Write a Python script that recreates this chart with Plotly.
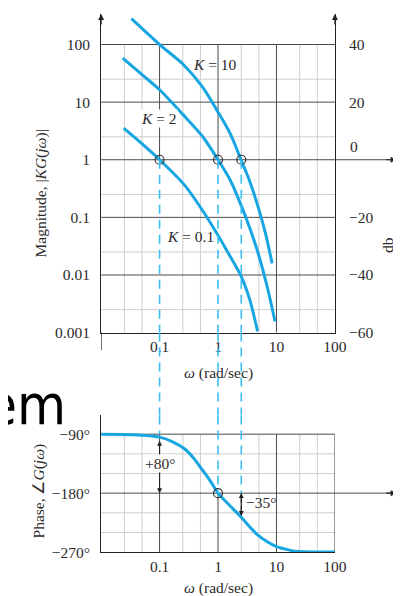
import math
import plotly.graph_objects as go

# ---------------- data ----------------
W_K10 = [0.033, 0.1, 0.25, 0.537, 1.03, 1.63, 2.48, 3.5, 4.75, 6.44, 8.42]
M_K10 = [281, 100, 45.8, 18.5, 6.38, 2.79, 1.0, 0.42, 0.163, 0.0541, 0.0159]

W_K2 = [0.0234, 0.0484, 0.1, 0.25, 0.537, 1.0, 1.63, 2.48, 3.63, 4.93, 6.96, 9.44]
M_K2 = [58.0, 30.9, 16.4, 6.13, 2.58, 1.0, 0.437, 0.163, 0.0585, 0.0227, 0.00618, 0.00156]

W_K01 = [0.0243, 0.0503, 0.1, 0.27, 0.58, 0.918, 1.51, 2.48, 3.5, 4.75]
M_K01 = [3.53, 1.88, 1.0, 0.359, 0.119, 0.0562, 0.0236, 0.00954, 0.0037, 0.00105]

W_PH = [0.01, 0.033, 0.1, 0.171, 0.27, 0.381, 0.537, 0.73, 1.0, 1.63, 2.48, 3.5, 4.75, 6.96, 10, 16.7, 24, 100]
PHASE = [-90, -90.8, -94.5, -102, -112.6, -126.3, -144.2, -160.8, -180, -200, -216.5, -231.6,
         -243.6, -254.2, -261.7, -267, -269.2, -270]

CROSS_W = [0.1, 1, 2.5]          # crossover frequencies (|KG| = 1, i.e. 0 db)
CROSS_DB = [0, 0, 0]
CROSS_PH_END = [-90, -180, -180]  # where the dashed guides stop in the phase plot
PM_01 = (-100, -180)              # +80 deg margin arrow at w = 0.1
PM_25 = (-180, -215)              # -35 deg margin arrow at w = 2.5

X_TICKS = [0.1, 1, 10, 100]
X_TICK_TEXT = ["0.1", "1", "10", "100"]
X_MAJOR = [0.1, 1, 10]
X_MINOR = [0.025, 0.05, 0.25, 0.5, 2.5, 5, 25, 50]
MAG_TICKS = [0.001, 0.01, 0.1, 1, 10, 100]
MAG_TICK_TEXT = ["0.001", "0.01", "0.1", "1", "10", "100"]
MAG_MINOR = [0.0025, 0.025, 0.25, 2.5, 25]
DB_TICKS = [-60, -40, -20, 20, 40]
DB_TICK_TEXT = ["\u221260", "\u221240", "\u221220", "20", "40"]
PH_TICKS = [-90, -180, -270]
PH_TICK_TEXT = ["\u221290\u00b0", "\u2212180\u00b0", "\u2212270\u00b0"]
PH_MINOR = [-120, -150, -210, -240]

# ---------------- style ----------------
W, H = 401, 596
BLUE = "#17a6e2"
DASH_BLUE = "#3cbdf0"
DARK = "#4a4a4a"
LIGHT = "#cdcdcd"
TXT = "#2b2b2b"
SERIF = "Liberation Serif"
FS = 15.5

XL, XR = 96 / W, 337 / W
TOP_DOM = [1 - 329 / H, 1 - 6 / H]
PH_DOM = [1 - 551.5 / H, 1 - 413 / H]
MAG_RANGE = [-3, 2.531]
PH_RANGE = [-270, -61.4]

fig = go.Figure()

# curves
for w, m in [(W_K10, M_K10), (W_K2, M_K2), (W_K01, M_K01)]:
    fig.add_trace(go.Scatter(x=w, y=m, mode="lines", line=dict(color=BLUE, width=3, shape="spline", smoothing=0.8),
                             xaxis="x", yaxis="y", hoverinfo="skip", showlegend=False))
fig.add_trace(go.Scatter(x=W_PH, y=PHASE, mode="lines", line=dict(color=BLUE, width=3, shape="spline", smoothing=0.8),
                         xaxis="x2", yaxis="y2", hoverinfo="skip", showlegend=False))

# crossover circles (on the db axis, at 0 db)
fig.add_trace(go.Scatter(x=CROSS_W, y=CROSS_DB, mode="markers",
                         marker=dict(symbol="circle-open", size=9, color="#333", line=dict(width=1.2)),
                         xaxis="x", yaxis="y3", hoverinfo="skip", showlegend=False))
fig.add_trace(go.Scatter(x=[1], y=[-180], mode="markers",
                         marker=dict(symbol="circle-open", size=9, color="#333", line=dict(width=1.2)),
                         xaxis="x2", yaxis="y2", hoverinfo="skip", showlegend=False))

shapes = []


def seg(x0, x1, y0, y1, xref, yref, color, width=1, dash=None):
    d = dict(type="line", x0=x0, x1=x1, y0=y0, y1=y1, xref=xref, yref=yref,
             line=dict(color=color, width=width), layer="below")
    if dash:
        d["line"]["dash"] = dash
        d["layer"] = "above"
    shapes.append(d)


# ---- magnitude grid ----
for m in MAG_MINOR:
    seg(0.01, 100, m, m, "x", "y", LIGHT)
for w in X_MINOR:
    seg(w, w, 1 if w in CROSS_W else 0.001, 100, "x", "y", LIGHT)
for m in MAG_TICKS[1:]:
    seg(0.01, 100, m, m, "x", "y", DARK)
for w in X_MAJOR:
    seg(w, w, 1 if w in CROSS_W else 0.001, 100, "x", "y", DARK)
seg(XR, 0.999, 1, 1, "paper", "y", DARK)
# left magnitude axis runs a little below the plot
seg(0.01, 0.01, TOP_DOM[0], 1 - 347 / H, "x", "paper", "#222", 1.2)

# ---- phase grid ----
for p in PH_MINOR:
    seg(0.01, 100, p, p, "x2", "y2", LIGHT)
for w in X_MINOR:
    if w in CROSS_W:
        seg(w, w, PM_25[1], -270, "x2", "y2", LIGHT)
    else:
        seg(w, w, -90, -270, "x2", "y2", LIGHT)
seg(0.01, 100, -90, -90, "x2", "y2", DARK)
seg(0.01, 100, -180, -180, "x2", "y2", DARK)
seg(XR, 0.999, -180, -180, "paper", "y2", DARK)
seg(0.1, 0.1, -90, -270, "x2", "y2", DARK)
seg(1, 1, -180, -270, "x2", "y2", DARK)
seg(10, 10, -90, -270, "x2", "y2", DARK)
seg(100, 100, -90, -270, "x2", "y2", DARK)
seg(2.5, 2.5, PM_25[0], PM_25[1], "x2", "y2", "#222", 1.2)

# ---- dashed guides ----
for w, pend in zip(CROSS_W, CROSS_PH_END):
    seg(w, w, 1, 0.001, "x", "y", DASH_BLUE, 1.6, "9px,6px")
    seg(w, w, TOP_DOM[0], PH_DOM[1], "x", "paper", DASH_BLUE, 1.6, "9px,6px")
    seg(w, w, PH_RANGE[1], pend, "x2", "y2", DASH_BLUE, 1.6, "9px,6px")

L = math.log10
ann = []


def arrowhead(x, y, xref, yref, ax, ay):
    ann.append(dict(x=x, y=y, xref=xref, yref=yref, ax=ax, ay=ay, text="", showarrow=True,
                    arrowhead=2, arrowsize=1, arrowwidth=1.2, arrowcolor="#222"))


def text(t, x, y, xref="paper", yref="paper", size=FS, angle=0, xanchor="center", bg=None,
         family=SERIF, color=TXT):
    d = dict(text=t, x=x, y=y, xref=xref, yref=yref, showarrow=False, textangle=angle,
             xanchor=xanchor, yanchor="middle", font=dict(family=family, size=size, color=color))
    if bg:
        d["bgcolor"] = bg
        d["borderpad"] = 0
    ann.append(d)


# axis arrows
arrowhead(L(0.01), MAG_RANGE[1], "x", "y", 0, 12)
arrowhead(L(100), MAG_RANGE[1], "x", "y", 0, 12)
arrowhead(0.999, 0, "paper", "y", -12, 0)
arrowhead(0.999, -180, "paper", "y2", -12, 0)

# margin arrows
for wv, (pa, pb) in [(0.1, PM_01), (2.5, PM_25)]:
    mid = (pa + pb) / 2
    for tip in (pa, pb):
        ann.append(dict(x=L(wv), y=tip, ax=L(wv), ay=mid, xref="x2", yref="y2", axref="x2", ayref="y2",
                        text="", showarrow=True, arrowhead=2, arrowsize=0.9, arrowwidth=1.1,
                        arrowcolor="#222"))

# labels inside
text("<i>K</i> = 10", L(0.88), L(45.8), "x", "y")
text("<i>K</i> = 2", L(0.096), L(5.2), "x", "y", bg="white")
text("<i>K</i> = 0.1", L(0.34), L(0.046), "x", "y")
text("+80\u00b0", L(0.1), -135, "x2", "y2", bg="white")
text("\u221235\u00b0", L(2.75), -195, "x2", "y2", xanchor="left")
text("0", 357 / W, 1 - 140 / H)

# axis titles
text("Magnitude, |<i>KG</i>(<i>j\u03c9</i>)|", 34 / W, 1 - 188 / H, angle=-90)
text("db", 392 / W, 1 - 240 / H, angle=-90)
text("<i>\u03c9</i> (rad/sec)", 217 / W, 1 - 370 / H)
text("Phase, \u2220<i>G</i>(<i>j\u03c9</i>)", 32 / W, 1 - 490 / H, angle=-90)
text("<i>\u03c9</i> (rad/sec)", 217 / W, 1 - 588 / H)

# stray slide text behind the figure
text("em", 62 / W, 1 - 402 / H, size=56, xanchor="right",
     family="Liberation Sans Narrow, DejaVu Sans Condensed, Liberation Sans", color="#000")

tickfont = dict(family=SERIF, size=FS, color=TXT)
common_x = dict(type="log", range=[-2, 2], domain=[XL, XR], showgrid=False, zeroline=False,
                showline=True, linecolor="#222", linewidth=1.2, ticks="",
                tickvals=X_TICKS, ticktext=X_TICK_TEXT, tickfont=tickfont, ticklabelstandoff=0)

fig.update_layout(
    width=W, height=H, margin=dict(l=0, r=0, t=0, b=0),
    paper_bgcolor="white", plot_bgcolor="white", showlegend=False,
    xaxis=dict(anchor="y", **common_x),
    xaxis2=dict(anchor="y2", **common_x),
    yaxis=dict(type="log", range=MAG_RANGE, domain=TOP_DOM, anchor="x", showgrid=False, zeroline=False,
               showline=True, linecolor="#222", linewidth=1.2, ticks="",
               tickvals=MAG_TICKS, ticktext=MAG_TICK_TEXT, tickfont=tickfont, ticklabelstandoff=7),
    yaxis3=dict(overlaying="y", side="right", anchor="x", range=[20 * MAG_RANGE[0], 20 * MAG_RANGE[1]],
                showgrid=False, zeroline=False, showline=True, linecolor="#222", linewidth=1.2, ticks="",
                tickvals=DB_TICKS, ticktext=DB_TICK_TEXT, tickfont=tickfont, ticklabelstandoff=10),
    yaxis2=dict(range=PH_RANGE, domain=PH_DOM, anchor="x2", showgrid=False, zeroline=False,
                showline=True, linecolor="#222", linewidth=1.2, ticks="",
                tickvals=PH_TICKS, ticktext=PH_TICK_TEXT, tickfont=tickfont, ticklabelstandoff=7),
    shapes=shapes, annotations=ann,
)

fig.write_html("out.html")
